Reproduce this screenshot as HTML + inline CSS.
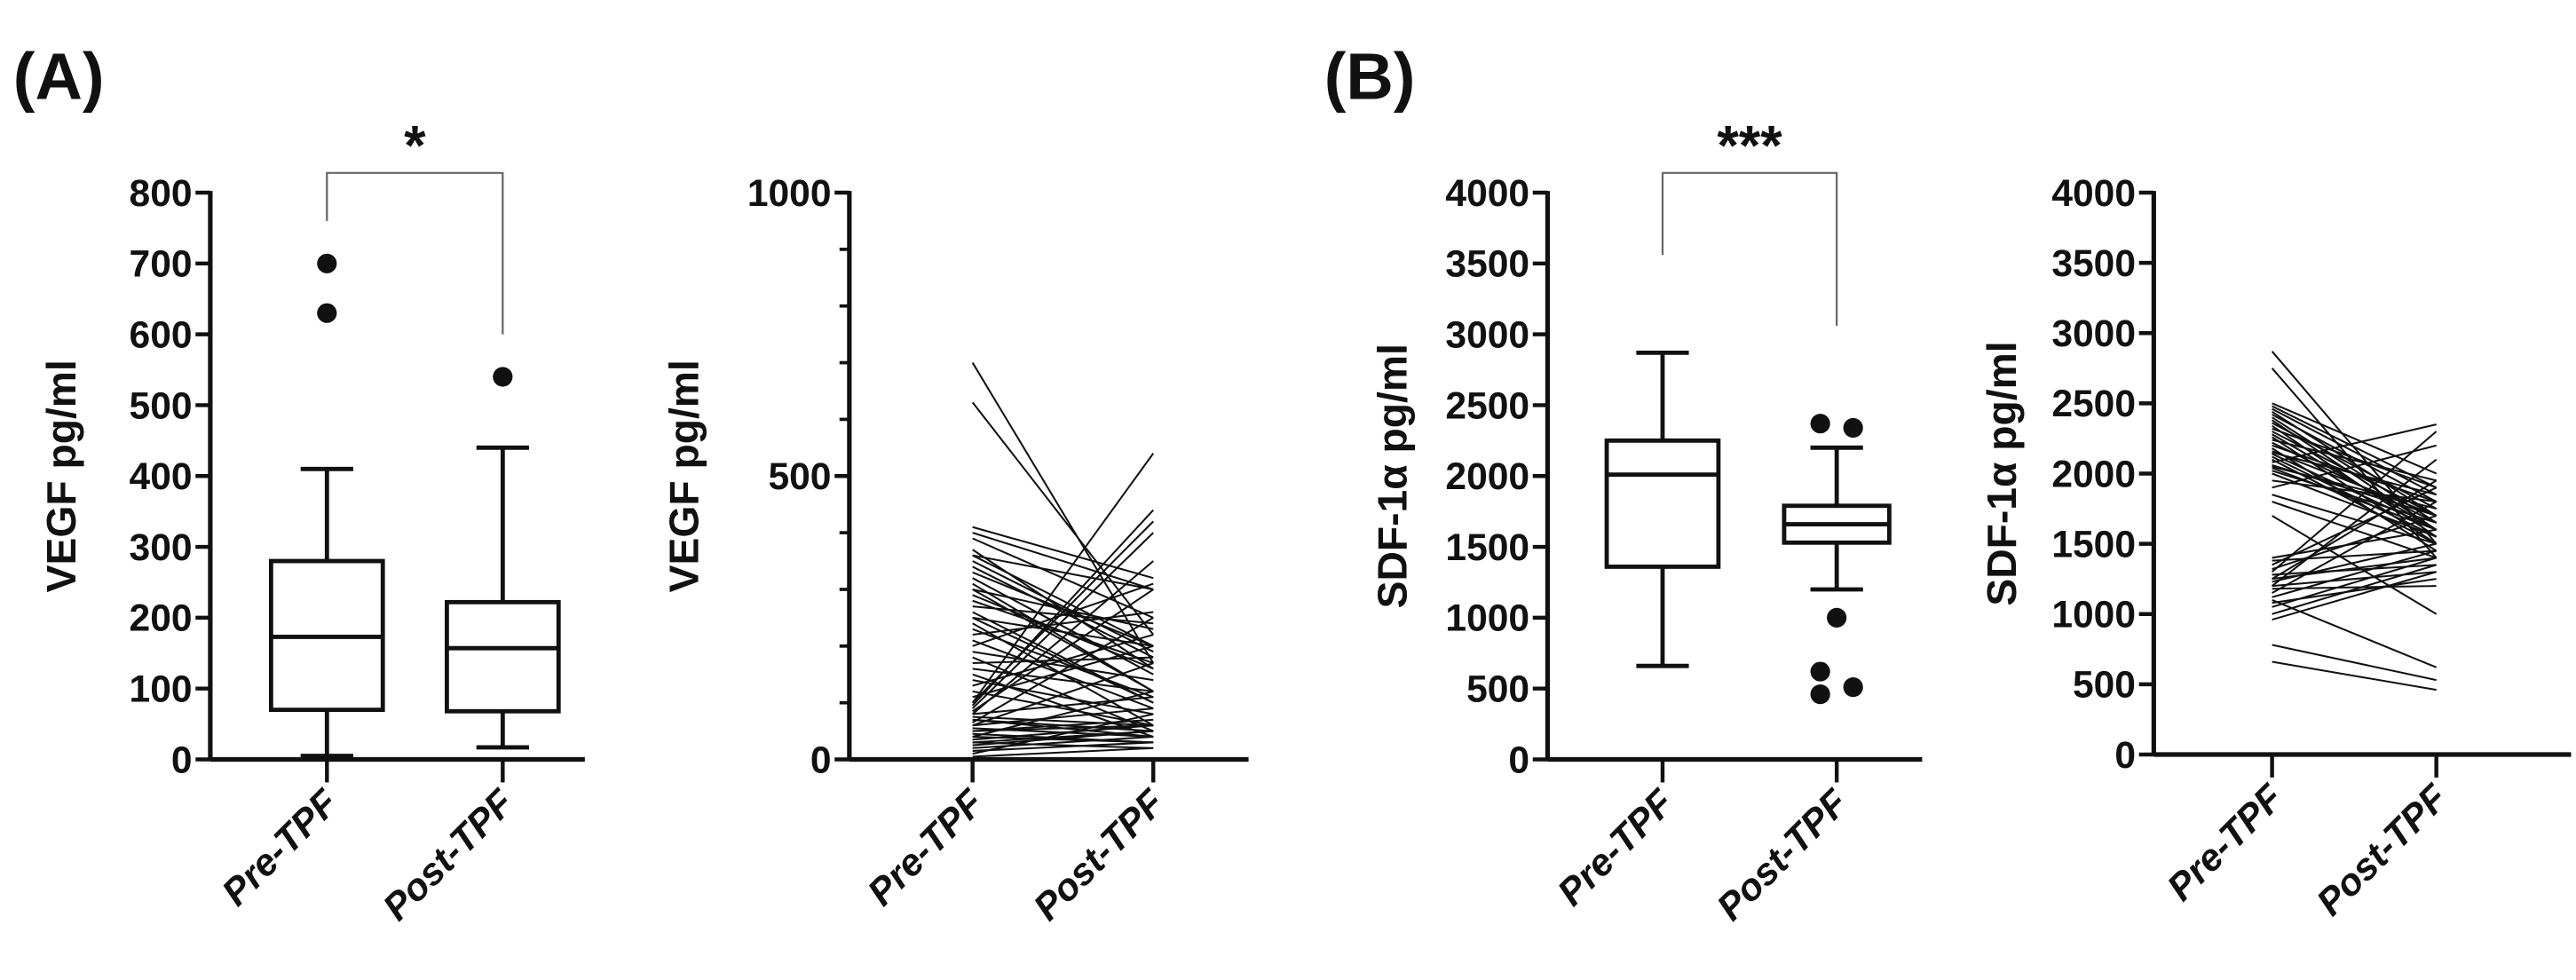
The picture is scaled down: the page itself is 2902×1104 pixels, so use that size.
<!DOCTYPE html>
<html><head><meta charset="utf-8">
<style>html,body{margin:0;padding:0;background:#fff}svg{display:block}text{font-family:"Liberation Sans",sans-serif;font-weight:bold;fill:#111}</style>
</head><body>
<svg id="fig" width="2902" height="1104" viewBox="0 0 1568 596" xmlns="http://www.w3.org/2000/svg">
<text x="8" y="60" font-size="40">(A)</text>
<text x="806" y="60" font-size="40">(B)</text>
<g id="root"></g>
</svg>
<script>
const vegfCats = ["Pre-TPF", "Post-TPF"];
const vegfBoxPre = [5, 70, 173, 280, 410];
const vegfBoxPost = [17, 68, 157, 222, 440];
const vegfOutPre = [700, 630];
const vegfOutPost = [540];
const vegfTicks = [0,100,200,300,400,500,600,700,800];
const vegfLineTicks = [0,500,1000];
const vegfPre = [700,630,410,400,390,370,360,350,340,330,320,310,300,290,280,270,260,250,240,230,220,210,200,190,180,170,160,150,140,130,120,110,100,95,90,85,80,75,70,65,60,55,50,45,40,35,30,25,20,15,10,5,360,300,250,100,80,60,70,50,40,30];
const vegfPost = [170,220,320,300,250,160,300,190,180,200,150,120,230,160,170,240,100,200,60,110,260,90,310,140,50,180,120,40,80,220,60,200,540,440,400,300,110,60,50,250,90,40,70,30,120,60,20,50,40,30,80,20,200,120,100,420,350,170,40,60,30,50];
const sdfBoxPre = [660, 1360, 2010, 2250, 2870];
const sdfBoxPost = [1200, 1530, 1660, 1790, 2200];
const sdfOutPost = [[2370,-1],[2340,1],[1000,0],[620,-1],[510,1],[460,-1]];
const sdfTicks = [0,500,1000,1500,2000,2500,3000,3500,4000];
const sdfPre = [2870,2750,2500,2480,2460,2440,2420,2400,2380,2360,2340,2320,2300,2280,2260,2240,2220,2200,2180,2160,2140,2120,2100,2080,2060,2040,2020,2000,1950,1900,1850,1800,1700,1400,1380,1350,1320,1300,1280,1250,1230,1200,1180,1150,1120,1100,1080,1050,1000,960,780,660,2050,2150,1250,1200];
const sdfPost = [1500,1400,2000,1900,1850,1700,1800,1650,1600,1750,1550,1900,1700,1600,1500,1950,1650,1800,1450,1700,1600,1550,1500,2350,1700,1600,1650,1550,1800,2200,1500,1400,1000,1600,1450,1900,1700,2300,1350,1400,1500,1300,1200,1800,1450,620,1250,1400,1350,1300,530,460,1750,1850,1950,2100];

const NS="http://www.w3.org/2000/svg";
const root=document.getElementById('root');
function mk(tag,attrs,parent){const e=document.createElementNS(NS,tag);for(const k in attrs)e.setAttribute(k,attrs[k]);(parent||root).appendChild(e);return e;}
function panel(o){
  const g=mk('g',{});
  
  
  const y=v=>o.y0-(v/o.max)*(o.y0-o.y1);
  const cx=[o.xPre,o.xPost];
  let e=mk('line',{x1:o.ax,y1:o.y1-1,x2:o.ax,y2:o.y0,stroke:'#111','stroke-width':2.8},g);
  
  e=mk('line',{x1:o.ax,y1:o.y0,x2:o.axEnd,y2:o.y0,stroke:'#111','stroke-width':2.8},g);
  
  o.ticks.forEach(t=>{
    mk('line',{x1:o.ax-9,y1:y(t),x2:o.ax,y2:y(t),stroke:'#111','stroke-width':2.4},g);
    const tx=mk('text',{x:o.ax-11,y:y(t)+8,'font-size':23,'text-anchor':'end'},g);
    tx.textContent=t;
    
    
  });
  if(o.minor){for(let v=0;v<=o.max;v+=o.minor){mk('line',{x1:o.ax-6,y1:y(v),x2:o.ax,y2:y(v),stroke:'#111','stroke-width':2},g);}}
  vegfCats.forEach((c,i)=>{
    mk('line',{x1:cx[i],y1:o.y0,x2:cx[i],y2:o.y0+14,stroke:'#111','stroke-width':2.4},g);
    const tx=mk('text',{x:0,y:0,'font-size':23,'font-style':'italic','text-anchor':'end',transform:`translate(${cx[i]+8},${o.y0+28}) rotate(-45)`},g);
    tx.textContent=c;
    
    
  });
  const yt=mk('text',{x:0,y:0,'font-size':25,'text-anchor':'middle',transform:`translate(${o.titleX},${(o.y0+o.y1)/2}) rotate(-90)`},g);
  yt.textContent=o.title;
  
  
  return {g,y,cx};
}
function box(p,st,x,w,name){
  const g=mk('g',{},p.g);
  
  
  const a={stroke:'#111','stroke-width':2.6,fill:'none'};
  mk('rect',Object.assign({x:x-w/2,y:p.y(st[3]),width:w,height:p.y(st[1])-p.y(st[3])},a),g);
  mk('line',Object.assign({x1:x-w/2,x2:x+w/2,y1:p.y(st[2]),y2:p.y(st[2])},a),g);
  mk('line',Object.assign({x1:x,x2:x,y1:p.y(st[3]),y2:p.y(st[4])},a),g);
  mk('line',Object.assign({x1:x,x2:x,y1:p.y(st[1]),y2:p.y(st[0])},a),g);
  mk('line',Object.assign({x1:x-16,x2:x+16,y1:p.y(st[4]),y2:p.y(st[4])},a),g);
  mk('line',Object.assign({x1:x-16,x2:x+16,y1:p.y(st[0]),y2:p.y(st[0])},a),g);
}
function dot(p,x,v){const c=mk('circle',{cx:x,cy:p.y(v),r:6,fill:'#111'},p.g);}
function bracket(p,vl,vr,stars,top){
  const b=mk('path',{d:`M${p.cx[0]},${p.y(vl)} V${top} H${p.cx[1]} V${p.y(vr)}`,stroke:'#666','stroke-width':1.2,fill:'none'},p.g);
  
  const t=mk('text',{x:(p.cx[0]+p.cx[1])/2,y:top-5,'font-size':34,'text-anchor':'middle'},p.g);
  t.textContent=stars;
  
}
function pairs(p,pre,post,name){
  const g=mk('g',{},p.g);
  
  
  pre.forEach((v,i)=>{mk('line',{x1:p.cx[0],y1:p.y(v),x2:p.cx[1],y2:p.y(post[i]),stroke:'#111','stroke-width':1.1},g);});
}
const pA=panel({name:'vegf-boxplot',ax:128,axEnd:356,y0:462,y1:117,max:800,xPre:199,xPost:306,ticks:vegfTicks,title:'VEGF pg/ml',titleX:46});
box(pA,vegfBoxPre,199,68,'box-pre-tpf');box(pA,vegfBoxPost,306,68,'box-post-tpf');
vegfOutPre.forEach(v=>dot(pA,199,v));vegfOutPost.forEach(v=>dot(pA,306,v));
bracket(pA,760,600,'*',105);
const pA2=panel({name:'vegf-paired-lines',ax:517,axEnd:760,y0:462,y1:117,max:1000,xPre:592,xPost:702,ticks:vegfLineTicks,minor:100,title:'VEGF pg/ml',titleX:425});
pairs(pA2,vegfPre,vegfPost,'vegf-pair-lines');
const pB=panel({name:'sdf-boxplot',ax:942,axEnd:1170,y0:462,y1:117,max:4000,xPre:1012,xPost:1118,ticks:sdfTicks,title:'SDF-1α pg/ml',titleX:856});
box(pB,sdfBoxPre,1012,68,'box-pre-tpf');box(pB,sdfBoxPost,1118,64,'box-post-tpf');
sdfOutPost.forEach(o=>dot(pB,1118+o[1]*10,o[0]));
bracket(pB,3560,3060,'***',105);
const pB2=panel({name:'sdf-paired-lines',ax:1311,axEnd:1565,y0:459,y1:117,max:4000,xPre:1383,xPost:1483,ticks:sdfTicks,title:'SDF-1α pg/ml',titleX:1227});
pairs(pB2,sdfPre,sdfPost,'sdf-pair-lines');
</script>
</body></html>
